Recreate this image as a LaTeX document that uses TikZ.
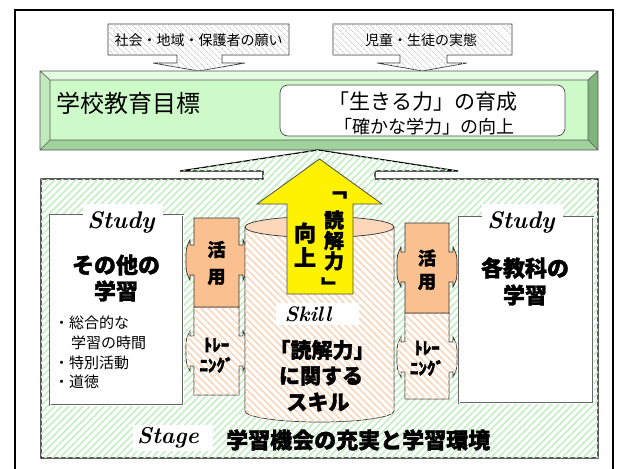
\documentclass[tikz,border=0pt]{standalone}
\usepackage{fontspec}
\newfontfamily\jp{Noto Sans CJK JP}
\newfontfamily\jph{Noto Sans CJK JP}[BoldFeatures={FakeBold=1.6}]
\usetikzlibrary{patterns.meta}
\definecolor{stripeG}{RGB}{196,238,196}
\definecolor{stripeO}{RGB}{250,214,186}
\definecolor{stripeGr}{RGB}{205,205,205}
\definecolor{katsu}{RGB}{250,192,144}
\definecolor{cyltop}{RGB}{252,215,185}
\definecolor{face}{RGB}{206,250,202}
\definecolor{bevT}{RGB}{228,252,224}
\definecolor{bevL}{RGB}{192,234,188}
\definecolor{bevB}{RGB}{160,210,156}
\definecolor{bevR}{RGB}{128,180,124}
\newcommand\LRcall[6]{%
 \draw[#1] (#2,#3) -- (#4,#3) -- (#4,{#6-15}) -- ({#4+4},{#6-15}) -- ({#4+4},{#6-20})
  .. controls ({#4+8},{#6-12}) .. ({#4+8},#6) .. controls ({#4+8},{#6+12}) .. ({#4+4},{#6+20})
  -- ({#4+4},{#6+15}) -- (#4,{#6+15}) -- (#4,#5) -- (#2,#5) -- (#2,{#6+15}) -- ({#2-4},{#6+15})
  -- ({#2-4},{#6+20}) .. controls ({#2-8},{#6+12}) .. ({#2-8},#6) .. controls ({#2-8},{#6-12}) .. ({#2-4},{#6-20})
  -- ({#2-4},{#6-15}) -- (#2,{#6-15}) -- cycle;}
\tikzset{
 jp/.style={font=\jp\fontsize{#1}{#1}\selectfont, inner sep=0pt},
 jpb/.style={font=\jph\bfseries\fontsize{#1}{#1}\selectfont, inner sep=0pt},
 lat/.style={font=\bfseries\itshape\fontsize{#1}{#1}\selectfont, inner sep=0pt},
 greyhatch/.style={fill=white, postaction={pattern={Lines[angle=-45,distance=4pt,line width=0.8pt]}, pattern color=stripeGr}},
 greenhatch/.style={fill=white, postaction={pattern={Lines[angle=45,distance=5pt,line width=1.6pt]}, pattern color=stripeG}},
 orangehatch/.style={fill=white, postaction={pattern={Lines[angle=-45,distance=5pt,line width=1.6pt]}, pattern color=stripeO}},
 callout/.style={draw=black!80, line width=0.7pt},
 studybox/.style={fill=white, draw=black!60, double=white, double distance=0.8pt, line width=0.9pt},
 katsubox/.style={fill=katsu, draw=black!80, line width=0.7pt},
 trainbox/.style={orangehatch, draw=black!80, line width=0.7pt},
}
\begin{document}
\begin{tikzpicture}[x=1pt,y=-1pt,line join=miter]
\useasboundingbox (0,0) rectangle (617,468);
\fill[white] (0,0) rectangle (617,468);
% outer frame
\draw[line width=1.6pt] (15,10) rectangle (613,478);
% top grey callouts
\draw[callout,greyhatch] (108,24) -- (289,24) -- (289,55) -- (222,55) -- (222,63) -- (245,63) -- (198.5,71) -- (153,63) -- (177,63) -- (177,55) -- (108,55) -- cycle;
\node[jp=14] (wish) at (198.5,40) {社会・地域・保護者の願い};
\draw[callout,greyhatch] (333,24) -- (512,24) -- (512,55) -- (447,55) -- (447,63) -- (467,63) -- (422.5,71) -- (377,63) -- (400,63) -- (400,55) -- (333,55) -- cycle;
\node[jp=14] (real) at (421,40) {児童・生徒の実態};
% bevel band
\fill[bevT] (40,71) -- (598,71) -- (588,80) -- (50,80) -- cycle;
\fill[bevL] (40,71) -- (50,80) -- (50,140) -- (40,150) -- cycle;
\fill[bevB] (40,150) -- (50,140) -- (588,140) -- (598,150) -- cycle;
\fill[bevR] (598,71) -- (598,150) -- (588,140) -- (588,80) -- cycle;
\fill[face] (50,80) rectangle (588,140);
\draw[black!65, line width=0.6pt] (40,71) rectangle (598,150) (50,80) rectangle (588,140)
  (40,71) -- (50,80) (598,71) -- (588,80) (40,150) -- (50,140) (598,150) -- (588,140);
\node[jp=24, anchor=west] (goal) at (56,103) {学校教育目標};
\draw[fill=white, draw=black!70, line width=0.7pt, rounded corners=8pt] (280,85) rectangle (565,136);
\node[jp=21] (ikiru) at (423,102) {「生きる力」の育成};
\node[jp=18] (tashika) at (424,127) {「確かな学力」の向上};
% stage box with roof
\draw[greenhatch, draw=black, line width=1.2pt] (41,179) -- (263,179) -- (263,171) -- (180,171) -- (318,150) -- (458,171) -- (375,171) -- (375,179) -- (598,179) -- (598,458) -- (41,458) -- cycle;
% study boxes
\draw[studybox] (50,215) rectangle (183,405);
\draw[studybox] (459,217) rectangle (593,403);
\fill[white] (83,204) rectangle (163,234);
\fill[white] (482,204) rectangle (563,234);
\node[lat=24] (studyL) at (121,222) {Study};
\node[lat=24] (studyR) at (521,222) {Study};
\node[jpb=22] (sonota) at (116,265) {その他の};
\node[jpb=22] (gakuL) at (116,291) {学習};
\node[jpb=22] (kaku) at (525,268) {各教科の};
\node[jpb=22] (gakuR) at (525,295) {学習};
\node[jp=15, anchor=west] (b1) at (54,323) {・総合的な};
\node[jp=15, anchor=west] (b2) at (71,343) {学習の時間};
\node[jp=15, anchor=west] (b3) at (54,363) {・特別活動};
\node[jp=15, anchor=west] (b4) at (54,382) {・道徳};
% callouts left
\LRcall{trainbox}{194}{307}{239}{395}{351}
\LRcall{katsubox}{194}{218}{239}{307}{260}
% callouts right
\LRcall{trainbox}{405}{313}{449}{399}{357}
\LRcall{katsubox}{405}{223}{449}{313}{267}
\node[jpb=18] (k1) at (216.5,249.5) {活};
\node[jpb=18] (y1) at (216.5,277) {用};
\node[jpb=18] (k2) at (427,258) {活};
\node[jpb=18] (y2) at (427,282) {用};
\node[jpb=17] (t1) at (216.5,345) {ﾄﾚｰ};
\node[jpb=17] (n1) at (216.5,365) {ﾆﾝｸﾞ};
\node[jpb=17] (t2) at (427,348) {ﾄﾚｰ};
\node[jpb=17] (n2) at (427,368) {ﾆﾝｸﾞ};
% cylinder
\draw[orangehatch, draw=black!80, line width=0.7pt] (245,227) -- (245,411) .. controls (245,417.1) and (278.4,422) .. (319.5,422) .. controls (360.6,422) and (394,417.1) .. (394,411) -- (394,227) -- cycle;
\draw[fill=cyltop, draw=black!80, line width=0.7pt] (319.5,227) ellipse [x radius=74.5pt, y radius=10.5pt];
% yellow arrow
\draw[fill=yellow, draw=black!70, line width=0.8pt] (319.5,159) -- (382,204) -- (353,204) -- (353,294) -- (287,294) -- (287,204) -- (257,204) -- cycle;
\node[jpb=20] (q1) at (337,195) {﹁};
\node[jpb=20] (d1) at (334,220) {読};
\node[jpb=20] (d2) at (334,240.5) {解};
\node[jpb=20] (d3) at (334,261) {力};
\node[jpb=20] (q2) at (331,286) {﹂};
\node[jpb=22] (m1) at (305,233) {向};
\node[jpb=22] (m2) at (305,257) {上};
% skill
\fill[white] (276,303) rectangle (359,325);
\node[lat=21] (skill) at (308,314) {Skill};
\node[jpb=21] (s1) at (322,350) {「読解力」};
\node[jpb=21] (s2) at (321,376) {に関する};
\node[jpb=21] (s3) at (318,402) {スキル};
% stage
\fill[white] (133,425) rectangle (213,451);
\node[lat=23] (stage) at (168,438) {Stage};
\node[jpb=22, anchor=west] (env) at (226,440) {学習機会の充実と学習環境};
\end{tikzpicture}
\end{document}
